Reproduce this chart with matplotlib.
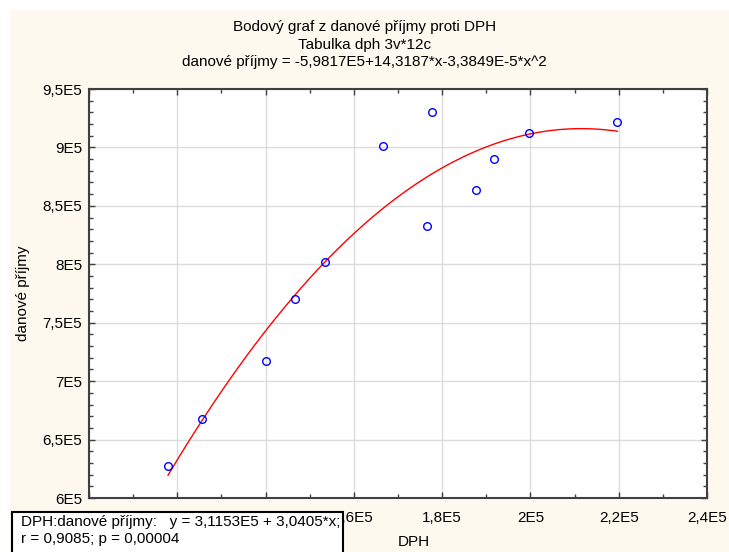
import numpy as np
import matplotlib.pyplot as plt
from matplotlib.ticker import MultipleLocator, FuncFormatter
from matplotlib.patches import Rectangle

plt.rcParams['font.family'] = ['Liberation Sans', 'DejaVu Sans']

# data
dph = [1.179e5, 1.256e5, 1.402e5, 1.467e5, 1.534e5, 1.665e5,
       1.777e5, 1.766e5, 1.877e5, 1.918e5, 1.996e5, 2.197e5]
prijmy = [6.27e5, 6.68e5, 7.17e5, 7.70e5, 8.02e5, 9.01e5,
          9.30e5, 8.33e5, 8.635e5, 8.90e5, 9.12e5, 9.22e5]

# quadratic fit from the title
b0, b1, b2 = -5.9817e5, 14.3187, -3.3849e-5

title = ("Bodový graf z danové příjmy proti DPH\n"
         "Tabulka dph 3v*12c\n"
         "danové příjmy = -5,9817E5+14,3187*x-3,3849E-5*x^2")
box_text = ("DPH:danové příjmy:   y = 3,1153E5 + 3,0405*x;\n"
            "r = 0,9085; p = 0,00004")

cream = '#fdf9ee'
fs = 11
fig = plt.figure(figsize=(7.29, 5.52), dpi=100)
fig.patch.set_facecolor('white')
fig.patches.append(Rectangle((10 / 729, 0), 1, 1 - 10 / 552,
                             transform=fig.transFigure, facecolor=cream,
                             edgecolor='none', zorder=-10))

ax = fig.add_axes([89 / 729, 1 - 498 / 552, (707 - 89) / 729, (498 - 89) / 552])
ax.set_facecolor('white')

xs = np.linspace(min(dph), max(dph), 200)
ax.plot(xs, b0 + b1 * xs + b2 * xs ** 2, color='red', lw=1.0, zorder=2)
ax.plot(dph, prijmy, 'o', mfc='none', mec='blue', ms=5.5, mew=1.0, zorder=3)

ax.set_xlim(1e5, 2.4e5)
ax.set_ylim(6e5, 9.5e5)
ax.xaxis.set_major_locator(MultipleLocator(0.2e5))
ax.xaxis.set_minor_locator(MultipleLocator(0.1e5))
ax.yaxis.set_major_locator(MultipleLocator(0.5e5))
ax.yaxis.set_minor_locator(MultipleLocator(0.1e5))


def sci(v, pos):
    m = v / 1e5
    s = ('%g' % round(m, 3)).replace('.', ',')
    return s + 'E5'


ax.xaxis.set_major_formatter(FuncFormatter(sci))
ax.yaxis.set_major_formatter(FuncFormatter(sci))
ax.tick_params(which='both', direction='in', top=True, right=True,
               colors='#404040', labelcolor='black', labelsize=fs)
ax.tick_params(axis='x', pad=9)
ax.tick_params(axis='y', pad=5)
ax.tick_params(which='major', length=4, width=1)
ax.tick_params(which='minor', length=3, width=1)
ax.grid(True, which='major', color='#dcdcdc', lw=1)
ax.set_axisbelow(True)
for sp in ax.spines.values():
    sp.set_color('#404040')
    sp.set_linewidth(1.5)

fig.text(0.5, 1 - 20 / 552, title, ha='center', va='top', fontsize=fs,
         linespacing=1.32)
fig.text(398 / 729, 1 - 542 / 552, 'DPH', ha='left', va='center', fontsize=fs)
fig.text(23 / 729, 1 - 293 / 552, 'danové příjmy', rotation=90,
         ha='center', va='center', fontsize=fs)

fig.patches.append(Rectangle((12 / 729, -0.05), (343 - 12) / 729,
                             (552 - 512) / 552 + 0.05,
                             transform=fig.transFigure, facecolor='white',
                             edgecolor='black', lw=1.5, zorder=5))
fig.text(21 / 729, 1 - 515 / 552, box_text, ha='left', va='top', fontsize=fs,
         linespacing=1.25, zorder=6)

fig.savefig('out.png', dpi=100, facecolor=fig.get_facecolor())
